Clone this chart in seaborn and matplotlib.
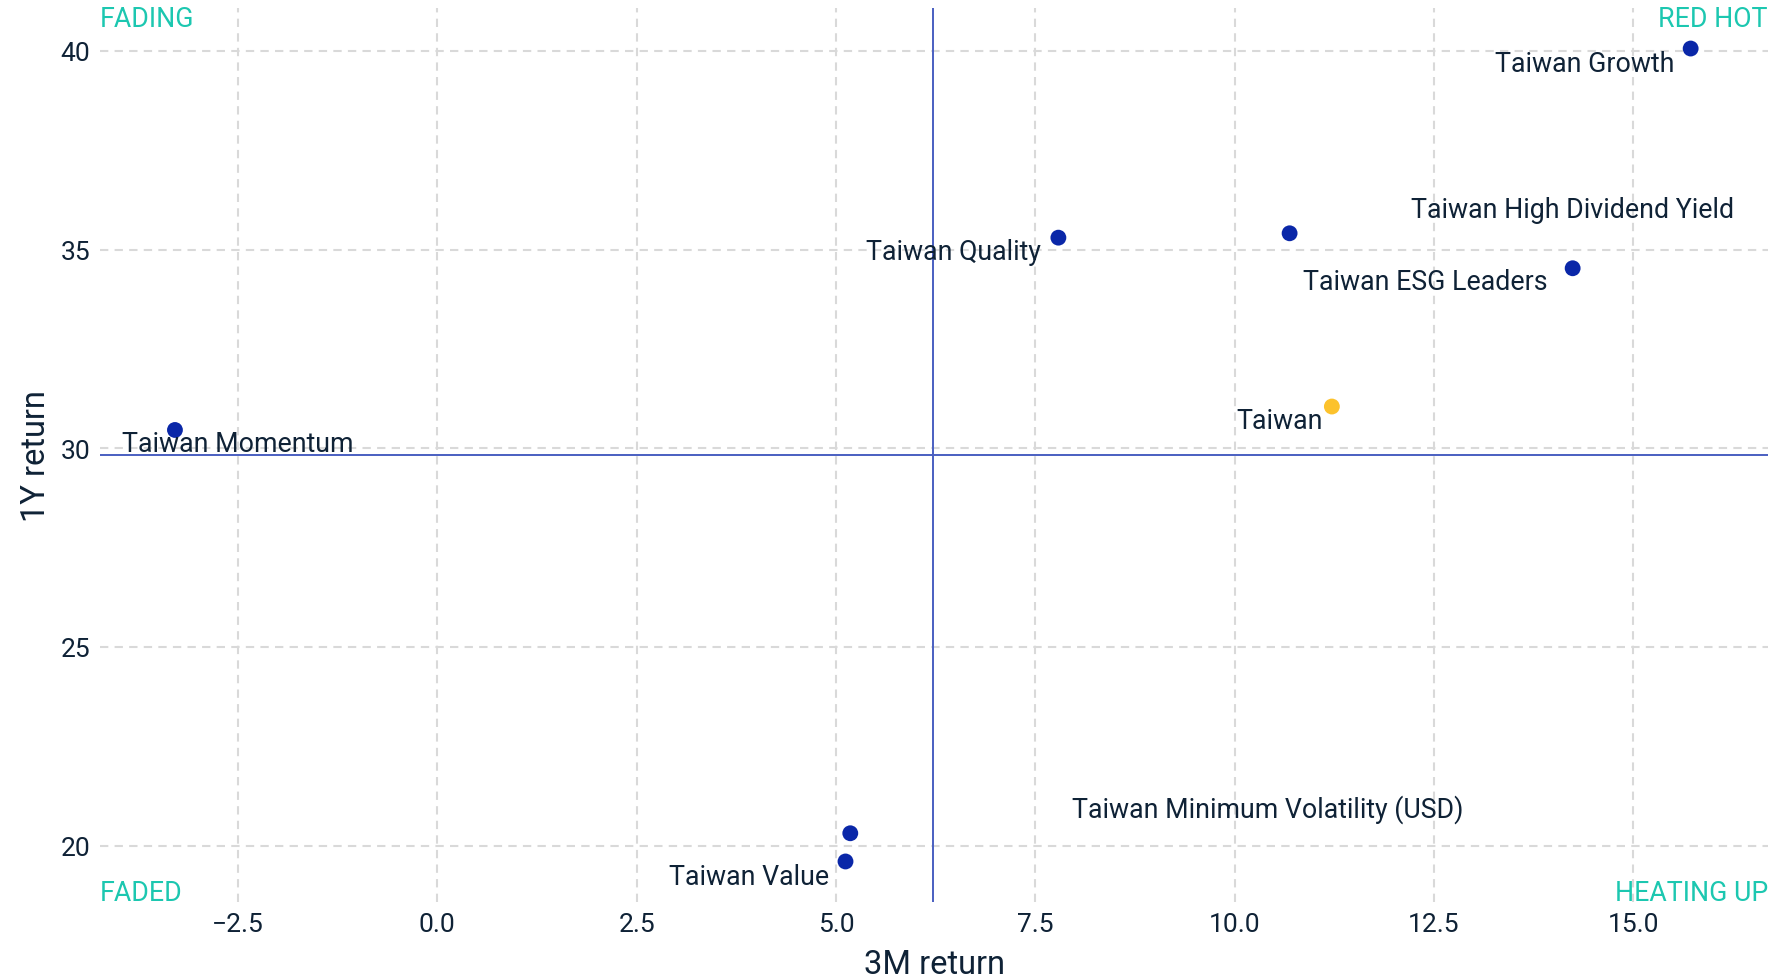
import matplotlib
matplotlib.use("Agg")
import matplotlib.pyplot as plt
import seaborn as sns
import pandas as pd

names = ["Taiwan Growth", "Taiwan High Dividend Yield", "Taiwan Quality",
         "Taiwan ESG Leaders", "Taiwan", "Taiwan Momentum",
         "Taiwan Minimum Volatility (USD)", "Taiwan Value"]
ret_3m = [15.72, 10.69, 7.79, 14.24, 11.22, -3.29, 5.18, 5.12]
ret_1y = [40.06, 35.41, 35.30, 34.53, 31.05, 30.46, 20.31, 19.60]
kind = ["index", "index", "index", "index", "market", "index", "index", "index"]
# label offsets in pixels (label centre relative to point)
lab_dx = [-106, 283, -105, -147, -52, 63, 417, -96]
lab_dy = [-15, 24, -13.5, -13.5, -13.5, -13.5, 25, -14.6]

x_ticks = [-2.5, 0.0, 2.5, 5.0, 7.5, 10.0, 12.5, 15.0]
y_ticks = [20, 25, 30, 35, 40]

df = pd.DataFrame({"name": names, "x": ret_3m, "y": ret_1y, "kind": kind})

sns.set_theme(style="white")
plt.rcParams["font.family"] = ["Roboto", "DejaVu Sans"]

TEXT = "#0f2236"
TEAL = "#1cc7b0"
LINE = "#4a5fc1"

fig = plt.figure(figsize=(17.75, 9.78), dpi=100)
ax = fig.add_axes([100/1775, 1-903/978, (1768-100)/1775, (903-9)/978])

sns.scatterplot(data=df, x="x", y="y", hue="kind",
                palette={"index": "#0a27a8", "market": "#fcc22c"},
                s=130, edgecolor="none", legend=False, ax=ax, zorder=3)

ax.set_xlim(-4.23, 16.69)
ax.set_ylim(18.58, 41.08)
ax.set_xticks(x_ticks)
ax.set_yticks(y_ticks)
ax.set_xticklabels([f"{v:.1f}".replace("-", "\u2212") for v in x_ticks])
ax.set_yticklabels([str(v) for v in y_ticks])
ax.grid(True, color="#d9d9d9", linestyle=(0, (4, 3)), linewidth=1.5)
ax.set_axisbelow(True)
for s in ax.spines.values():
    s.set_visible(False)
ax.tick_params(axis="both", length=0, labelsize=19, colors=TEXT)
ax.tick_params(axis="x", pad=7)
ax.tick_params(axis="y", pad=7)

xm = (min(ret_3m) + max(ret_3m)) / 2
ym = (min(ret_1y) + max(ret_1y)) / 2
ax.axvline(xm, color=LINE, linewidth=1.4, zorder=2)
ax.axhline(ym, color=LINE, linewidth=1.4, zorder=2)

for n, xv, yv, dx, dy in zip(names, ret_3m, ret_1y, lab_dx, lab_dy):
    ax.annotate(n, (xv, yv), xytext=(dx, dy), textcoords="offset pixels",
                ha="center", va="center", fontsize=19.3, color=TEXT, zorder=4)

ax.text(0, 1.003, "FADING", transform=ax.transAxes, ha="left", va="top",
        fontsize=19.3, color=TEAL)
ax.text(1, 1.003, "RED HOT", transform=ax.transAxes, ha="right", va="top",
        fontsize=19.3, color=TEAL)
ax.text(0, 0.002, "FADED", transform=ax.transAxes, ha="left", va="baseline",
        fontsize=19.3, color=TEAL)
ax.text(1, 0.002, "HEATING UP", transform=ax.transAxes, ha="right", va="baseline",
        fontsize=19.3, color=TEAL)

ax.set_xlabel("3M return", fontsize=23.5, color=TEXT, labelpad=9)
ax.set_ylabel("1Y return", fontsize=23.5, color=TEXT, labelpad=6)

fig.savefig("out.png", dpi=100, facecolor="white")
